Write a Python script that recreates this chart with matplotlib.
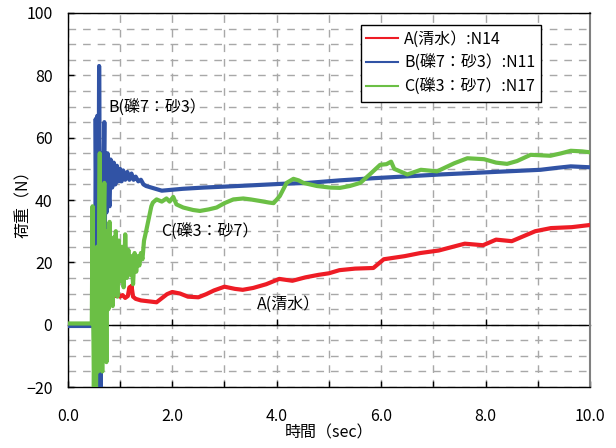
import numpy as np
import matplotlib
matplotlib.use("Agg")
import matplotlib.pyplot as plt

plt.rcParams['font.family'] = ['Noto Sans CJK JP', 'DejaVu Sans']

# A: 清水 (N14)
t_a = [0.80, 0.84, 0.88, 0.92, 0.96, 1.00, 1.05, 1.10, 1.15, 1.18, 1.20, 1.22, 1.25,
       1.30, 1.40, 1.55, 1.70, 1.80, 1.90, 2.00, 2.15, 2.30, 2.50, 2.65, 2.80, 3.00,
       3.20, 3.35, 3.55, 3.80, 4.05, 4.30, 4.55, 4.80, 5.00, 5.20, 5.50, 5.85, 6.05,
       6.45, 6.75, 7.10, 7.60, 7.95, 8.20, 8.50, 8.95, 9.25, 9.65, 10.0]
v_a = [11.0, 9.5, 10.0, 9.2, 9.8, 9.0, 9.5, 8.6, 9.2, 12.0, 11.0, 12.5, 9.0,
       8.3, 7.8, 7.5, 7.2, 8.5, 9.8, 10.5, 10.0, 9.0, 8.8, 9.8, 11.0, 12.2,
       11.5, 11.2, 11.8, 13.0, 14.7, 14.1, 15.2, 16.0, 16.5, 17.5, 18.0, 18.2, 21.0,
       22.0, 23.0, 23.8, 26.0, 25.5, 27.3, 26.8, 30.0, 31.0, 31.3, 32.0]

# B: 礫7:砂3 (N11)
t_b = [0.00, 0.50, 0.52, 0.535, 0.55, 0.565, 0.58, 0.60, 0.615, 0.63, 0.645, 0.66,
       0.68, 0.70, 0.71, 0.72, 0.74, 0.76, 0.78, 0.80, 0.82, 0.85, 0.88, 0.91, 0.94,
       0.97, 1.00, 1.03, 1.06, 1.10, 1.14, 1.18, 1.22, 1.26, 1.30, 1.35, 1.40, 1.45,
       1.50, 1.60, 1.70, 1.80, 2.00, 2.20, 2.60, 3.00, 3.50, 4.10, 4.60, 5.20, 5.85,
       6.50, 7.13, 7.77, 8.41, 9.05, 9.35, 9.63, 10.0]
v_b = [-0.4, -0.4, -25, 66, 30, 67, -25, 83, 40, -25, 35, 55,
       40, 65, 30, 52, 36, 55, 42, 38, 53, 44, 52, 45, 51,
       46, 50, 46, 49.5, 46.5, 49, 46.5, 48.5, 46.5, 47.5, 46, 46.5, 45,
       44.5, 44, 43.5, 43.0, 43.3, 43.6, 44.0, 44.3, 44.7, 45.2, 45.5, 46.3, 47.0,
       47.6, 48.2, 48.7, 49.2, 49.7, 50.3, 50.8, 50.5]

# C: 礫3:砂7 (N17)
t_c = [0.00, 0.46, 0.475, 0.485, 0.50, 0.52, 0.54, 0.56, 0.58, 0.60, 0.613, 0.625,
       0.64, 0.66, 0.68, 0.70, 0.71, 0.72, 0.74, 0.76, 0.78, 0.80, 0.82, 0.84, 0.86,
       0.88, 0.90, 0.92, 0.95, 0.98, 1.01, 1.04, 1.07, 1.10, 1.13, 1.16, 1.19, 1.22,
       1.25, 1.28, 1.31, 1.34, 1.37, 1.40, 1.43, 1.46, 1.50, 1.55, 1.60, 1.63, 1.70,
       1.80, 1.89, 1.95, 2.02, 2.08, 2.21, 2.40, 2.53, 2.70, 2.85, 3.00, 3.17, 3.36,
       3.50, 3.68, 3.85, 3.94, 4.06, 4.19, 4.32, 4.42, 4.51, 4.77, 5.02, 5.21, 5.40,
       5.60, 5.80, 5.98, 6.10, 6.19, 6.25, 6.50, 6.76, 7.07, 7.40, 7.65, 7.97, 8.20,
       8.41, 8.60, 8.86, 9.00, 9.24, 9.45, 9.63, 9.85, 10.0]
v_c = [0.4, 0.4, 38, 10, -20, 5, -25, 25, -15, 30, 55, -10,
       20, -15, 28, 45.5, 0, 25, -12, 30, 5, 33, 10, 26, 6,
       28, 12, 30, 9, 27, 14, 25, 12, 29, 15, 24, 16, 22,
       13, 23, 17, 22, 19, 23, 21, 27, 30, 34, 38, 39.2, 40.2,
       39.5, 40.5, 39.5, 41.0, 38.6, 37.6, 36.8, 36.5, 37.0, 37.6, 39.0, 40.2, 40.5,
       40.2, 39.7, 39.2, 39.0, 41.3, 45.5, 46.8, 46.3, 45.5, 44.5, 44.0, 43.9, 44.5,
       45.5, 48.5, 51.3, 51.5, 52.3, 50.0, 48.2, 49.7, 49.2, 51.8, 53.4, 53.1, 52.0,
       51.6, 52.5, 54.5, 54.4, 54.2, 55.0, 55.8, 55.6, 55.3]

names = ['A(清水）:N14', 'B(礫7：砂3）:N11', 'C(礫3：砂7）:N17']
colors = ['#EE1C25', '#3153A5', '#6BBF45']

fig = plt.figure(figsize=(6.16, 4.48), dpi=100)
ax = fig.add_axes([0.110, 0.136, 0.848, 0.835])

for t, v, name, c in zip([t_a, t_b, t_c], [v_a, v_b, v_c], names, colors):
    ax.plot(t, v, color=c, lw=3.0, label=name, zorder=3)

ax.set_xlim(0, 10)
ax.set_ylim(-20, 100)
ax.set_xticks(np.arange(0, 10.1, 2))
ax.set_xticks(np.arange(0, 10.1, 1), minor=True)
ax.set_yticks(np.arange(-20, 101, 20))
ax.set_yticks(np.arange(-20, 101, 5), minor=True)
ax.set_xticklabels([f'{x:.1f}' for x in np.arange(0, 10.1, 2)])

ax.grid(True, which='both', color='#A8A8A8', lw=1, linestyle=(0, (5.5, 5)))
ax.set_axisbelow(True)

ax.tick_params(axis='x', which='both', direction='in', length=4, width=1,
               pad=15, labelsize=11.5)
ax.tick_params(axis='y', which='major', direction='in', length=4, width=1,
               pad=11, labelsize=11.5)
ax.tick_params(axis='y', which='minor', length=0)

for s in ['left', 'bottom', 'top']:
    ax.spines[s].set_color('black')
    ax.spines[s].set_linewidth(1)
ax.spines['right'].set_color('#808080')
ax.spines['right'].set_linewidth(1.5)

# zero line with its own ticks, above the grid
zero = ax.secondary_xaxis(0, transform=ax.transData)
zero.set_zorder(1.5)
zero.set_xticks(np.arange(2, 9, 2))
zero.tick_params(direction='in', length=4, width=1, labelbottom=False)
zero.spines['bottom'].set_linewidth(1)

ax.set_xlabel('時間（sec）', fontsize=11.5, labelpad=0)
ax.set_ylabel('荷重（N）', fontsize=11.5, labelpad=-4)

ax.text(0.77, 69.5, 'B(礫7：砂3）', fontsize=11.5, va='center', ha='left')
ax.text(1.79, 29.7, 'C(礫3：砂7）', fontsize=11.5, va='center', ha='left')
ax.text(3.62, 6.6, 'A(清水）', fontsize=11.5, va='center', ha='left')

leg = ax.legend(loc='upper left', bbox_to_anchor=(0.561, 0.968), borderaxespad=0,
                fancybox=False, edgecolor='black', framealpha=1, fontsize=11.5,
                handlelength=2.0, labelspacing=0.45, borderpad=0.35,
                handletextpad=0.35)
leg.get_frame().set_linewidth(1)
for line in leg.get_lines():
    line.set_linewidth(1.5)

fig.savefig('out.png', dpi=100)
